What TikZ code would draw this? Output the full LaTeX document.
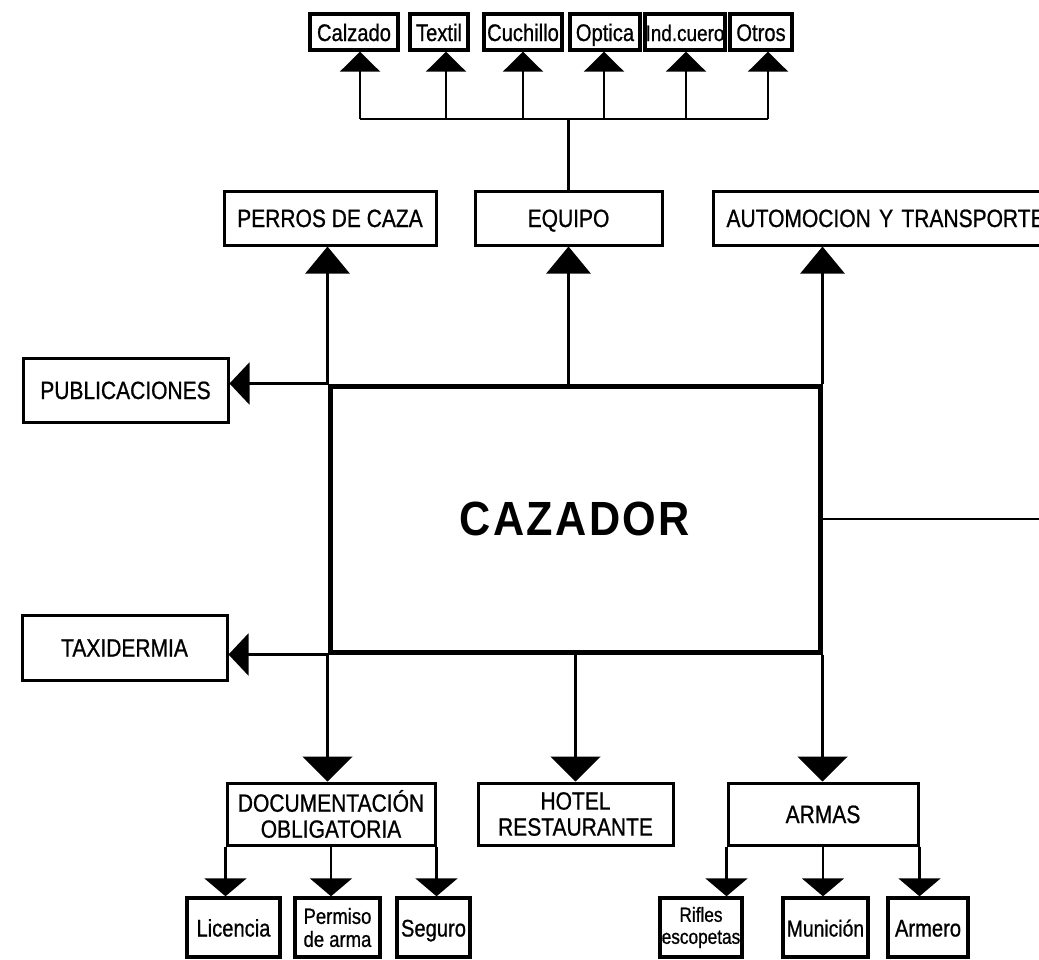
\documentclass[tikz,border=0pt]{standalone}
\usepackage{fontspec}
\setmainfont{Liberation Sans}[FakeStretch=0.84,FakeBold=0.8]
\newfontfamily\cazfont{Liberation Sans}[FakeStretch=0.9,LetterSpace=5]
\usetikzlibrary{arrows.meta,calc}
\begin{document}
\begin{tikzpicture}[x=1pt,y=-1pt,
  box/.style={draw,line width=3pt,inner sep=0pt,align=center,font=\fontsize{25}{26}\selectfont},
  one/.style={text height=18pt,text depth=0pt},
  small/.style={box,line width=3.4pt,font=\fontsize{24}{20}\selectfont},
  two/.style={font=\fontsize{22}{23}\selectfont},
  conn/.style={line width=2.4pt},
  tipS/.style={-{Triangle[width=40pt,length=20pt]}},
  tipM/.style={-{Triangle[width=44pt,length=27pt]}},
  tipL/.style={-{Triangle[width=42pt,length=20pt]}},
  tipB/.style={-{Triangle[width=50pt,length=25pt]}},
  tipC/.style={-{Triangle[width=42pt,length=18pt]}}
]
\useasboundingbox (0,0) rectangle (1039,959);
\clip (0,0) rectangle (1039,959);

% top row
\node[small,one,minimum width=88pt,minimum height=36pt] (calz) at (354,32) {Calzado};
\node[small,one,minimum width=58pt,minimum height=36pt] (text) at (439,32) {Textil};
\node[small,one,minimum width=78pt,minimum height=36pt] (cuch) at (523,32) {Cuchillo};
\node[small,one,minimum width=70pt,minimum height=36pt] (opti) at (605,32) {Optica};
\node[small,one,minimum width=80pt,minimum height=36pt,font=\fontsize{22.5}{20}\selectfont] (indc) at (685,32) {Ind.cuero};
\node[small,one,minimum width=62pt,minimum height=36pt] (otro) at (761,32) {Otros};

% middle row
\node[box,one,minimum width=212pt,minimum height=54pt] (perros) at (330,218) {PERROS DE CAZA};
\node[box,one,minimum width=187pt,minimum height=54pt] (equipo) at (568.5,218) {EQUIPO};
\node[box,one,minimum width=357pt,minimum height=54pt,text width=330pt,align=left] (auto) at (891.5,218) {AUTOMOCION Y TRANSPORTE};

% left
\node[box,one,minimum width=205pt,minimum height=64pt] (pub) at (125.5,390) {PUBLICACIONES};
\node[box,one,minimum width=205pt,minimum height=65pt] (taxi) at (124.5,647.5) {TAXIDERMIA};

% centre
\node[draw,line width=5pt,minimum width=490pt,minimum height=266pt,inner sep=0pt,
      font=\cazfont\fontsize{48}{52}\selectfont\bfseries] (caz) at (575,519) {CAZADOR};

% bottom row
\node[box,minimum width=208pt,minimum height=62pt] (doc) at (331,814) {DOCUMENTACIÓN\\OBLIGATORIA};
\node[box,minimum width=195pt,minimum height=62pt] (hotel) at (575.5,814) {HOTEL\\RESTAURANTE};
\node[box,one,minimum width=190pt,minimum height=62pt] (armas) at (823,814) {ARMAS};

% children
\node[small,one,minimum width=93pt,minimum height=59pt] (lic) at (233.5,927.5) {Licencia};
\node[small,two,minimum width=85pt,minimum height=59pt] (perm) at (337.5,927.5) {Permiso\\de arma};
\node[small,one,minimum width=73pt,minimum height=59pt] (seg) at (433.5,927.5) {Seguro};
\node[small,two,minimum width=82pt,minimum height=59pt,font=\fontsize{20.5}{22}\selectfont] (rif) at (701,927.5) {Rifles\\escopetas};
\node[small,one,minimum width=85pt,minimum height=59pt,font=\fontsize{23}{20}\selectfont] (mun) at (825.5,927.5) {Munición};
\node[small,one,minimum width=80pt,minimum height=59pt] (arm) at (928,927.5) {Armero};

% bus to top row
\coordinate (b1) at (360,119);
\coordinate (b2) at (446,119);
\coordinate (b3) at (523,119);
\coordinate (b4) at (604,119);
\coordinate (b5) at (686,119);
\coordinate (b6) at (768,119);
\draw[conn] (equipo.north) -- (equipo.north |- b1);
\draw[conn] (b1) -- (b6);
\draw[conn,tipS] (b1) -- (b1 |- calz.south);
\draw[conn,tipS] (b2) -- (b2 |- text.south);
\draw[conn,tipS] (b3) -- (b3 |- cuch.south);
\draw[conn,tipS] (b4) -- (b4 |- opti.south);
\draw[conn,tipS] (b5) -- (b5 |- indc.south);
\draw[conn,tipS] (b6) -- (b6 |- otro.south);

% from CAZADOR upwards
\draw[conn,tipM] (caz.north west) -- (caz.north west |- perros.south);
\draw[conn,tipM] (caz.north -| equipo) -- (equipo.south);
\draw[conn,tipM] (caz.north east) -- (caz.north east |- auto.south);

% left
\draw[conn,tipL] (caz.north west) -- (pub.east |- caz.north west);
\draw[conn,tipL] (caz.south west) -- (taxi.east |- caz.south west);

% right
\coordinate (rend) at (1039,519);
\draw[conn] (caz.east) -- (rend);

% downwards
\draw[conn,tipB] (caz.south west) -- (caz.south west |- doc.north);
\draw[conn,tipB] (caz.south -| hotel) -- (hotel.north);
\draw[conn,tipB] (caz.south east) -- (caz.south east |- armas.north);

% children
\draw[conn,tipC] (doc.south west) -- (doc.south west |- lic.north);
\draw[conn,tipC] (doc.south) -- (doc.south |- perm.north);
\draw[conn,tipC] (doc.south east) -- (doc.south east |- seg.north);
\draw[conn,tipC] (armas.south west) -- (armas.south west |- rif.north);
\draw[conn,tipC] (armas.south) -- (armas.south |- mun.north);
\draw[conn,tipC] (armas.south east) -- (armas.south east |- arm.north);
\end{tikzpicture}
\end{document}
